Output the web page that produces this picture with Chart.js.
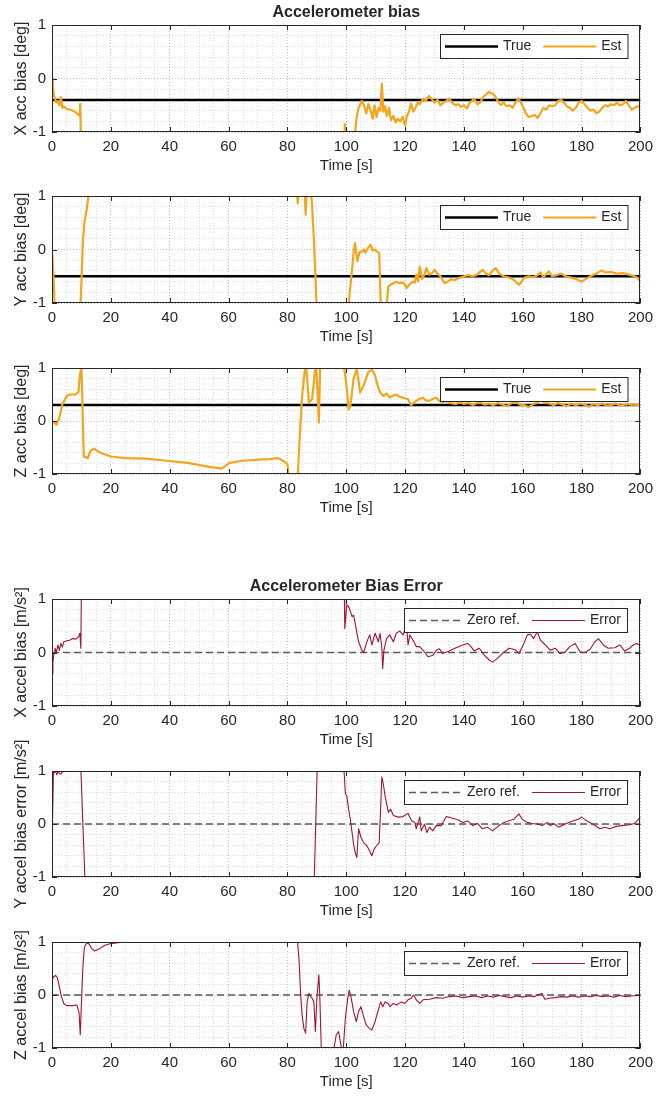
<!DOCTYPE html>
<html>
<head>
<meta charset="utf-8">
<title>Accelerometer bias</title>
<script src="https://cdn.jsdelivr.net/npm/chart.js@4.4.1/dist/chart.umd.min.js"></script>
<style>
  html, body { margin: 0; padding: 0; background: #fff; }
  #page { position: relative; width: 659px; height: 1097px; overflow: hidden; }
  #page canvas { position: absolute; left: 0; }
</style>
</head>
<body>
<div id="page">
  <canvas id="p1"></canvas>
  <canvas id="p2"></canvas>
  <canvas id="p3"></canvas>
  <canvas id="p4"></canvas>
  <canvas id="p5"></canvas>
  <canvas id="p6"></canvas>
</div>
<script>
// ---- data: [time s, value] (values beyond +-1 are clipped) ----
const timeTicks = [0, 20, 40, 60, 80, 100, 120, 140, 160, 180, 200];
const valueTicks = [-1, 0, 1];

const trueX = [[0, -0.4], [200, -0.4]];
const trueY = [[0, -0.5], [200, -0.5]];
const trueZ = [[0, 0.3], [200, 0.3]];
const zeroRef = [[0, 0], [200, 0]];

const estX = [[0,0],[0.3,-0.15],[0.6,-0.3],[1,-0.38],[1.5,-0.45],[2,-0.42],[2.5,-0.5],[3,-0.35],[3.5,-0.55],[4,-0.52],
  [5,-0.57],[6,-0.58],[7,-0.6],[8,-0.63],[9,-0.68],[9.4,-0.7],[9.6,-0.48],[10,-1.6],[50,-2],[99.3,-1.5],[99.5,-0.85],
  [99.8,-1.4],[102.6,-1.5],[103,-1.0],[103.6,-0.7],[104.2,-0.55],[105.3,-0.42],[106,-0.5],[106.8,-0.65],[107.5,-0.48],
  [108.3,-0.6],[109,-0.75],[109.6,-0.5],[110.3,-0.72],[111,-0.55],[111.6,-0.6],[112.1,-0.1],[112.6,-0.62],[113.2,-0.52],
  [113.8,-0.7],[114.5,-0.55],[115.2,-0.78],[116,-0.7],[116.8,-0.82],[117.5,-0.75],[118.3,-0.8],[119.2,-0.72],[120,-0.88],
  [120.6,-0.7],[121.3,-0.62],[122,-0.47],[122.8,-0.62],[123.5,-0.55],[124.3,-0.45],[125,-0.48],[126,-0.38],[127,-0.42],
  [128,-0.33],[129,-0.38],[130,-0.45],[131,-0.4],[132,-0.5],[133,-0.45],[134,-0.42],[135,-0.38],[136,-0.45],[137,-0.5],
  [138,-0.48],[139,-0.53],[140,-0.5],[141,-0.56],[142,-0.45],[143.5,-0.38],[144.5,-0.48],[145.5,-0.45],[146.5,-0.35],
  [147.5,-0.3],[148.5,-0.25],[149.5,-0.28],[150.5,-0.32],[151.5,-0.42],[152.5,-0.5],[153.5,-0.45],[154.5,-0.52],[155.5,-0.5],
  [156.5,-0.55],[157.5,-0.45],[158.5,-0.37],[159.3,-0.45],[160.3,-0.55],[161,-0.65],[162,-0.72],[163,-0.7],[164,-0.68],
  [165,-0.74],[166,-0.65],[167,-0.55],[168,-0.58],[169,-0.5],[170,-0.52],[171,-0.5],[172,-0.42],[173,-0.4],[174,-0.45],
  [175,-0.52],[176,-0.55],[177,-0.6],[178,-0.55],[179,-0.45],[180,-0.42],[181,-0.48],[182,-0.55],[183,-0.6],[184,-0.58],
  [185,-0.65],[186,-0.62],[187,-0.55],[188,-0.5],[189,-0.52],[190,-0.48],[191,-0.5],[192,-0.45],[193,-0.5],[194,-0.48],
  [195,-0.42],[196,-0.5],[197,-0.58],[198,-0.55],[199,-0.52],[200,-0.53]];

const estY = [[0,0],[0.5,-0.5],[1.1,-1.3],[9.5,-1.3],[10,-0.6],[10.5,0.15],[11,0.5],[11.8,0.75],[12.5,1.05],[13,1.4],
  [50,1.6],[83,1.3],[83.5,0.86],[83.8,1.3],[85.8,1.2],[86.2,0.65],[86.6,1.2],[87.6,1.2],[88.3,0.9],[89,0.2],[89.6,-0.6],
  [90,-1.2],[100.5,-1.3],[101.2,-0.8],[102,-0.35],[102.6,0.0],[103,0.12],[103.5,-0.1],[103.8,-0.22],[104.5,-0.05],
  [105.3,-0.04],[106,0.0],[106.5,-0.06],[107.3,0.02],[108.3,0.09],[109,-0.02],[109.8,0.0],[110.5,-0.04],[111.2,-0.06],
  [111.8,-1.2],[113.5,-1.2],[114.3,-0.69],[115,-0.66],[116,-0.63],[117,-0.6],[118,-0.63],[119.5,-0.62],[120.5,-0.72],
  [121.5,-0.65],[122.5,-0.6],[123.3,-0.62],[123.8,-0.47],[124.4,-0.6],[125,-0.32],[125.8,-0.55],[126.5,-0.48],[127.3,-0.35],
  [128.2,-0.47],[129,-0.45],[130,-0.38],[131,-0.45],[132,-0.5],[133.4,-0.63],[134.5,-0.6],[135.5,-0.56],[137,-0.57],
  [138.5,-0.53],[140,-0.5],[141.5,-0.48],[143,-0.5],[144.5,-0.47],[146.3,-0.38],[147.5,-0.45],[148.5,-0.48],[150,-0.38],
  [150.8,-0.35],[152,-0.45],[153.5,-0.5],[155,-0.52],[156.5,-0.55],[158.7,-0.66],[160.5,-0.53],[162,-0.5],[163.5,-0.52],
  [165,-0.48],[166,-0.43],[167,-0.52],[168.8,-0.41],[170,-0.5],[171.5,-0.48],[173,-0.45],[174.5,-0.5],[176,-0.52],
  [178,-0.55],[180,-0.6],[181.5,-0.55],[183,-0.5],[185,-0.45],[186.8,-0.39],[188,-0.43],[190,-0.42],[192,-0.45],
  [194,-0.44],[196,-0.47],[198,-0.5],[199,-0.53],[200,-0.6]];

const estZ = [[0,0.0],[1,-0.04],[1.5,-0.07],[2.5,0.06],[3.5,0.31],[5,0.47],[6,0.5],[8,0.5],[9,0.55],[9.5,0.87],[10,1.02],
  [10.4,0.2],[10.8,-0.67],[12.2,-0.7],[13,-0.57],[14.3,-0.52],[16.5,-0.6],[20,-0.67],[25,-0.7],[32,-0.71],[39,-0.75],
  [46,-0.79],[53,-0.86],[57.6,-0.9],[60.4,-0.79],[64.7,-0.75],[70.4,-0.73],[74,-0.72],[76.7,-0.7],[78.9,-0.76],[80,-0.82],
  [80.6,-1.1],[83.4,-1.2],[84,-0.49],[85,0.47],[86,1.0],[86.3,1.1],[87.3,0.35],[88.4,0.41],[89.3,0.9],[89.8,1.05],
  [90.3,0.5],[90.7,-0.03],[91.2,1.2],[96.2,1.2],[96.5,0.99],[96.8,1.2],[99,1.1],[99.5,0.92],[100.2,0.6],[100.8,0.22],
  [101.4,0.28],[102.5,0.8],[103.6,0.99],[104.7,0.54],[105.9,0.67],[107.5,0.92],[108.7,0.97],[109.8,0.86],[110.5,0.7],
  [111.5,0.54],[112.6,0.47],[113.7,0.52],[114.8,0.44],[116,0.48],[117,0.5],[118,0.46],[119.3,0.44],[121,0.41],[122,0.3],
  [123.8,0.38],[125,0.42],[126,0.44],[127,0.39],[128.3,0.38],[129.5,0.42],[130.6,0.44],[131.5,0.38],[132.8,0.36],
  [134,0.38],[135,0.35],[136,0.33],[137.3,0.32],[138.5,0.36],[140,0.32],[141.5,0.34],[143,0.3],[144,0.33],[145.5,0.35],
  [147,0.31],[148.5,0.33],[150,0.3],[151.5,0.34],[153,0.31],[154.5,0.28],[156,0.33],[157.5,0.36],[159,0.31],[160.5,0.3],
  [162,0.26],[163.5,0.32],[165,0.34],[166,0.39],[167.5,0.35],[169,0.33],[170.5,0.3],[172,0.34],[173.5,0.31],[175,0.28],
  [176.5,0.33],[178,0.3],[179.5,0.33],[181,0.31],[182.5,0.27],[184,0.32],[185.5,0.3],[187,0.33],[188.5,0.29],[190,0.3],
  [191.5,0.33],[193,0.29],[194.5,0.31],[196,0.32],[197.5,0.29],[199,0.31],[200,0.3]];

const errX = [[0,-0.4],[0.3,-0.2],[0.7,0],[1,0.08],[1.5,0.01],[2,0.14],[2.5,0.04],[3,0.17],[3.5,0.1],[4,0.2],[5,0.22],
  [6,0.23],[7,0.26],[8,0.25],[9,0.29],[9.5,0.36],[9.8,0.08],[10,1.3],[50,1.6],[99.3,1.3],[99.5,0.45],[100.2,0.89],
  [100.8,0.86],[101.4,0.77],[102,0.67],[102.5,0.7],[103.1,0.52],[104.2,0.2],[105.3,0.04],[105.9,0],[107,0.2],[108,0.33],
  [108.7,0.14],[109.8,0.36],[110.9,0.2],[111.5,0.36],[112.1,0.08],[112.4,-0.3],[112.8,0.04],[113.7,0.26],[114.8,0.33],
  [116,0.2],[117,0.36],[118.2,0.4],[119.3,0.33],[120.5,0.52],[121,0.14],[121.6,0.33],[122.7,0.23],[123.8,0.11],
  [124.9,0.11],[126.6,0.01],[127.8,-0.08],[129.5,-0.05],[130.6,0.04],[131.7,0.07],[132.8,-0.02],[135,0.03],[137.3,0.09],
  [139.6,0.14],[141.3,0.17],[142.4,0.11],[143.5,0.03],[145.2,0.08],[146.9,-0.05],[148.6,-0.14],[149.7,-0.18],[151.4,-0.11],
  [153,-0.02],[155.3,0.08],[157.5,0.05],[158.7,-0.02],[160.4,0.17],[161.5,0.33],[162.6,0.34],[163.7,0.26],[164.9,0.39],
  [166,0.23],[167.7,0.14],[169.4,0.04],[171,0.08],[172.7,-0.02],[174.4,0.01],[176,0.11],[177.8,0.17],[179.5,0.01],
  [181.2,0],[182.9,0.06],[184.5,0.2],[185.7,0.26],[187.4,0.14],[189,0.08],[191.3,0.09],[193,0.14],[194.6,0.03],
  [196.3,0.08],[197.5,0.14],[198.6,0.17],[200,0.13]];

const errY = [[0,-0.5],[0.5,1.0],[0.8,0.97],[1.2,1.0],[1.6,0.93],[2,0.98],[2.5,0.96],[3,0.94],[3.4,0.98],[3.7,1.2],
  [9.7,1.2],[11.3,-1.2],[89,-1.3],[90.2,1.2],[98.7,1.2],[98.9,1.0],[99.3,0.97],[99.7,0.57],[100.2,0.53],[100.8,0.28],
  [101.4,0.09],[101.9,-0.13],[102.5,-0.38],[103,-0.53],[103.6,-0.63],[104.2,-0.09],[105,-0.25],[105.9,-0.35],[107,-0.41],
  [107.9,-0.5],[108.7,-0.6],[109.5,-0.47],[110.3,-0.41],[111.2,-0.35],[111.7,0.31],[112.1,0.89],[112.6,0.75],[113.2,0.53],
  [114,0.31],[114.3,0.22],[115.1,0.28],[116,0.16],[117.7,0.13],[119.3,0.14],[121,0.2],[122.2,0.06],[123.3,0.03],
  [123.8,-0.09],[125,0.13],[125.5,-0.13],[126.6,0],[127.4,-0.16],[128.3,-0.06],[129.4,-0.13],[130.6,-0.03],[132.3,-0.03],
  [134,0.14],[136.2,0.11],[137.9,0.08],[139.6,0.03],[141.3,0.06],[143,-0.03],[144.6,0.01],[146.3,-0.09],[148,-0.06],
  [149.7,-0.13],[151.9,-0.03],[153.6,0.03],[155.3,0.06],[157,0.09],[158.7,0.19],[159.8,0.09],[161.5,0.03],[163.2,0.01],
  [164.9,0],[166.6,-0.03],[168.3,0.03],[169.4,-0.03],[170.5,0.01],[172.2,-0.06],[174.4,0],[176.7,0.05],[178.9,0.09],
  [180,0.13],[181.7,0.06],[184,-0.01],[186.2,-0.09],[187.9,-0.06],[189.6,-0.09],[191.3,-0.05],[193.5,-0.03],[195.8,-0.02],
  [198,0.01],[200,0.13]];

const errZ = [[0,0.28],[0.5,0.34],[1.2,0.37],[1.8,0.33],[2.5,0.16],[3.2,-0.03],[4,-0.16],[5,-0.2],[7,-0.2],[8.5,-0.19],
  [9.2,-0.34],[9.6,-0.75],[10,-0.16],[10.5,0.53],[11,0.9],[11.8,0.98],[12.5,0.97],[13.5,0.88],[14.5,0.83],[16,0.87],
  [18,0.94],[20,0.97],[23,0.99],[28,0.99],[33,1.0],[35,1.02],[38,1.0],[40,1.03],[74,1.03],[75.5,0.995],[77,1.0],
  [78.5,0.995],[79.5,1.03],[83.4,1.04],[84,0.63],[84.5,0],[85,-0.38],[85.6,-0.63],[86.2,-0.72],[86.7,-0.13],[87.3,0.03],
  [87.9,-0.03],[88.4,-0.06],[89,-0.13],[89.5,-0.69],[90.1,0],[90.7,0.38],[91,0],[91.5,-1.0],[92,-1.2],[95.5,-1.2],
  [96,-0.95],[96.6,-0.75],[97.4,-0.69],[98,-0.88],[98.5,-1.05],[99,-1.0],[99.7,-0.44],[100.5,-0.06],[101,0.09],
  [101.6,-0.03],[102.5,-0.31],[103.4,-0.5],[104.2,-0.31],[105,-0.22],[105.9,-0.41],[106.8,-0.57],[107.9,-0.63],
  [108.7,-0.66],[109.8,-0.5],[110.9,-0.28],[111.7,-0.13],[112.4,-0.22],[113.2,-0.13],[114.3,-0.16],[114.9,-0.22],
  [116,-0.16],[117.1,-0.19],[118.8,-0.13],[119.9,-0.16],[121,-0.09],[122.1,-0.06],[122.9,0],[123.8,-0.09],[125,-0.16],
  [126.1,-0.09],[128.3,-0.08],[130.6,-0.05],[132.8,-0.06],[135,-0.03],[137.3,-0.02],[139.5,-0.05],[141.8,-0.03],
  [144,-0.02],[146,-0.05],[148,-0.02],[150,-0.04],[152,-0.01],[154,-0.03],[156,-0.05],[158,-0.02],[160,-0.04],
  [162,-0.02],[164,-0.03],[165.4,0.01],[166.5,0.03],[167.5,-0.08],[169,-0.06],[171,-0.05],[173,-0.03],[175,-0.04],
  [177,-0.02],[179,-0.04],[181,-0.02],[183,-0.03],[185,-0.01],[187,-0.03],[189,-0.02],[191,-0.04],[193,-0.01],
  [195,-0.03],[197,-0.02],[199,-0.01],[200,0]];

// ---- look ----
const FONT = "'Liberation Sans', Arial, Helvetica, sans-serif";
const INK = '#262626';
const EST_COLOR = '#F4A51C';
const ERR_COLOR = '#A2142F';
Chart.defaults.font.family = FONT;
Chart.defaults.color = INK;

const W = 659, LEFT = 52, RIGHT = 644;
const PAD_T = 60, PAD_B = 60, X_AXIS_H = 43;

const pts = arr => arr.map(([x, y]) => ({ x, y }));
const isMajorT = v => timeTicks.includes(Math.round(v * 1000) / 1000);
const isMajorV = v => valueTicks.some(t => Math.abs(t - v) < 1e-6);

// axes box + inward major ticks, like MATLAB "box on"
const framePlugin = {
  id: 'frame',
  afterDatasetsDraw(chart) {
    const { ctx, chartArea: a, scales: { x, y } } = chart;
    ctx.save();
    ctx.strokeStyle = INK;
    ctx.lineWidth = 1;
    ctx.strokeRect(Math.round(a.left) + 0.5, Math.round(a.top) + 0.5, Math.round(a.width) - 1, Math.round(a.height) - 1);
    ctx.beginPath();
    timeTicks.forEach(t => {
      const px = Math.round(x.getPixelForValue(t)) + 0.5;
      ctx.moveTo(px, a.bottom); ctx.lineTo(px, a.bottom - 5);
      ctx.moveTo(px, a.top); ctx.lineTo(px, a.top + 5);
    });
    valueTicks.forEach(v => {
      const py = Math.round(y.getPixelForValue(v)) + 0.5;
      ctx.moveTo(a.left, py); ctx.lineTo(a.left + 5, py);
      ctx.moveTo(a.right, py); ctx.lineTo(a.right - 5, py);
    });
    ctx.stroke();
    ctx.restore();
  }
};

// boxed legend in the upper right corner
const boxLegend = {
  id: 'boxLegend',
  afterDatasetsDraw(chart) {
    const { ctx, chartArea: a } = chart;
    const sets = chart.data.datasets;
    ctx.save();
    ctx.font = '14px ' + FONT;
    const sample = 53, gap = 5, sep = 12, padL = 5, padR = 6, h = 24;
    let w = padL + padR;
    sets.forEach((d, i) => { w += sample + gap + ctx.measureText(d.label).width + (i ? sep : 0); });
    const bx = Math.round(a.right - 13 - w), by = Math.round(a.top + 9);
    ctx.fillStyle = '#fff';
    ctx.fillRect(bx, by, w, h);
    ctx.strokeStyle = INK;
    ctx.lineWidth = 1;
    ctx.strokeRect(bx + 0.5, by + 0.5, w, h);
    let cx = bx + padL;
    const cy = by + h / 2 + 0.5;
    sets.forEach((d, i) => {
      if (i) cx += sep;
      ctx.beginPath();
      ctx.strokeStyle = d.borderColor;
      ctx.lineWidth = d.borderWidth;
      ctx.setLineDash(d.borderDash || []);
      ctx.moveTo(cx, cy); ctx.lineTo(cx + sample, cy);
      ctx.stroke();
      ctx.setLineDash([]);
      cx += sample + gap;
      ctx.fillStyle = INK;
      ctx.textBaseline = 'middle';
      ctx.fillText(d.label, cx, cy);
      cx += ctx.measureText(d.label).width;
    });
    ctx.restore();
  }
};

// figure title and the rotated y label (may run past the axes height)
const labels = {
  id: 'labels',
  afterDraw(chart, args, opts) {
    const { ctx, chartArea: a } = chart;
    ctx.save();
    ctx.fillStyle = INK;
    ctx.textAlign = 'center';
    ctx.textBaseline = 'middle';
    if (opts.title) {
      ctx.font = 'bold 16px ' + FONT;
      ctx.fillText(opts.title, (a.left + a.right) / 2, a.top - 12);
    }
    ctx.translate(22, (a.top + a.bottom) / 2);
    ctx.rotate(-Math.PI / 2);
    ctx.font = '16px ' + FONT;
    ctx.fillText(opts.ylabel, 0, 0);
    ctx.restore();
  }
};

const panels = [
  { id: 'p1', top: 25, bottom: 132, title: 'Accelerometer bias', ylabel: 'X acc bias [deg]', kind: 'bias', ref: trueX, val: estX },
  { id: 'p2', top: 196, bottom: 303, ylabel: 'Y acc bias [deg]', kind: 'bias', ref: trueY, val: estY },
  { id: 'p3', top: 368, bottom: 474, ylabel: 'Z acc bias [deg]', kind: 'bias', ref: trueZ, val: estZ },
  { id: 'p4', top: 599, bottom: 706, title: 'Accelerometer Bias Error', ylabel: 'X accel bias [m/s\u00B2]', kind: 'err', ref: zeroRef, val: errX },
  { id: 'p5', top: 771, bottom: 877, ylabel: 'Y accel bias error [m/s\u00B2]', kind: 'err', ref: zeroRef, val: errY },
  { id: 'p6', top: 942, bottom: 1048, ylabel: 'Z accel bias [m/s\u00B2]', kind: 'err', ref: zeroRef, val: errZ }
];

function gridColor(ctx, major) {
  if (!ctx.tick) return 'rgba(0,0,0,0.13)';
  return major(ctx.tick.value) ? 'rgba(0,0,0,0.24)' : 'rgba(0,0,0,0.13)';
}

function makePanel(p) {
  const canvas = document.getElementById(p.id);
  const h = (p.bottom - p.top) + PAD_T + PAD_B;
  canvas.width = W;
  canvas.height = h;
  canvas.style.width = W + 'px';
  canvas.style.height = h + 'px';
  canvas.style.top = (p.top - PAD_T) + 'px';

  const bias = p.kind === 'bias';
  const datasets = bias ? [
    { label: 'True', data: pts(p.ref), borderColor: '#000', borderWidth: 2.5, order: 1 },
    { label: 'Est', data: pts(p.val), borderColor: EST_COLOR, borderWidth: 2.2, order: 0 }
  ] : [
    { label: 'Zero ref.', data: pts(p.ref), borderColor: '#5a5a5a', borderWidth: 1.4, borderDash: [7, 4], order: 1 },
    { label: 'Error', data: pts(p.val), borderColor: ERR_COLOR, borderWidth: 1.1, order: 0 }
  ];
  datasets.forEach(d => {
    d.pointRadius = 0;
    d.tension = 0;
    d.fill = false;
    d.clip = 0;
    d.borderJoinStyle = 'round';
  });

  return new Chart(canvas, {
    type: 'line',
    data: { datasets },
    options: {
      responsive: false,
      animation: false,
      devicePixelRatio: 1,
      layout: { padding: { top: PAD_T, right: W - RIGHT, bottom: PAD_B - X_AXIS_H, left: 0 } },
      plugins: {
        legend: { display: false },
        tooltip: { enabled: false },
        labels: { title: p.title, ylabel: p.ylabel }
      },
      scales: {
        x: {
          type: 'linear',
          min: 0,
          max: 200,
          afterFit: s => { s.height = X_AXIS_H; },
          ticks: {
            stepSize: 5,
            autoSkip: false,
            maxRotation: 0,
            padding: 6,
            color: INK,
            font: { size: 15 },
            callback: v => (isMajorT(v) ? v : '')
          },
          grid: { drawTicks: false, lineWidth: 1, color: c => gridColor(c, isMajorT) },
          border: { display: false, dash: [1, 2] },
          title: { display: true, text: 'Time [s]', color: INK, font: { size: 15 }, padding: { top: 0, bottom: 0 } }
        },
        y: {
          min: -1,
          max: 1,
          afterFit: s => { s.width = LEFT; },
          ticks: {
            stepSize: 0.2,
            autoSkip: false,
            padding: 6,
            color: INK,
            font: { size: 15 },
            callback: v => (isMajorV(v) ? String(Math.round(v)) : '')
          },
          grid: { drawTicks: false, lineWidth: 1, color: c => gridColor(c, isMajorV) },
          border: { display: false, dash: [1, 2] }
        }
      }
    },
    plugins: [framePlugin, boxLegend, labels]
  });
}

panels.forEach(makePanel);
</script>
</body>
</html>
